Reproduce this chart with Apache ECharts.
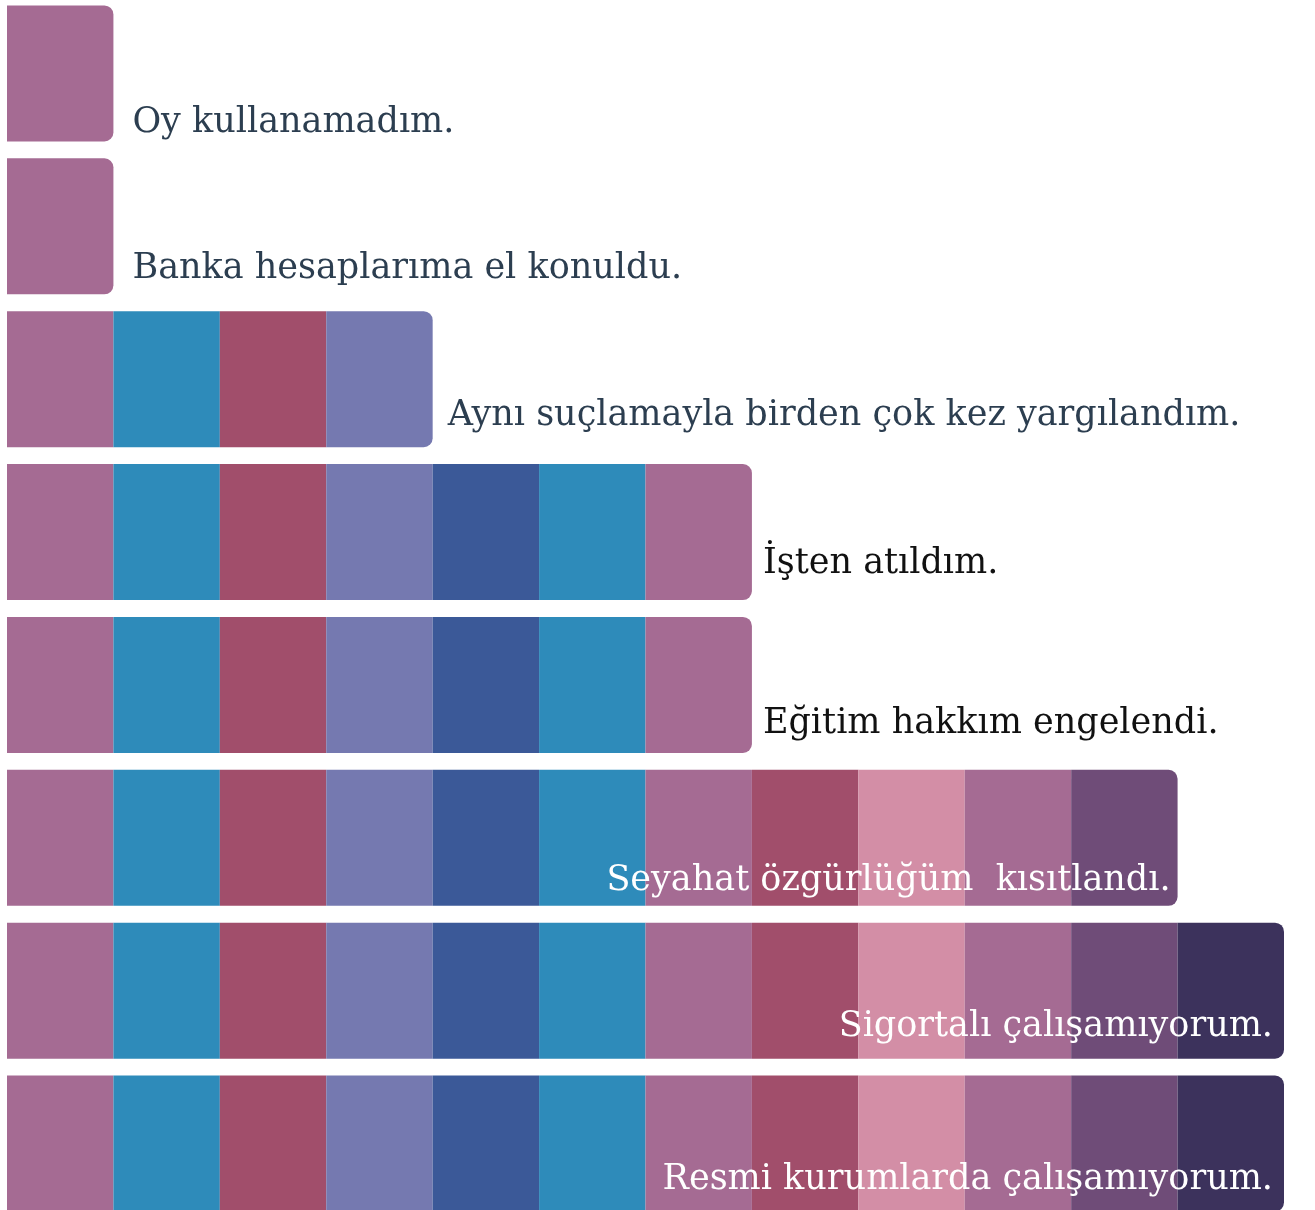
<!DOCTYPE html>
<html>
<head>
<meta charset="utf-8">
<script src="https://cdn.jsdelivr.net/npm/echarts@6/dist/echarts.min.js"></script>
<style>
  html, body { margin: 0; padding: 0; background: #fff; overflow: hidden; }
  #chart { position: absolute; left: 0; top: -3px; width: 1315px; height: 1223px; }
</style>
</head>
<body>
<div id="chart"></div>
<script>
// satır başlıkları (yukarıdan aşağı)
const categories = [
  'Oy kullanamadım.',
  'Banka hesaplarıma el konuldu.',
  'Aynı suçlamayla birden çok kez yargılandım.',
  'İşten atıldım.',
  'Eğitim hakkım engelendi.',
  'Seyahat özgürlüğüm  kısıtlandı.',
  'Sigortalı çalışamıyorum.',
  'Resmi kurumlarda çalışamıyorum.'
];
// her satırdaki kutu sayısı
const counts = [1, 1, 4, 7, 7, 11, 12, 12];
// kutu renkleri, soldan sağa
const cellColors = ['#a56b93', '#2e8bba', '#a14e6b', '#7579b0', '#3b5998', '#2e8bba',
                    '#a56b93', '#a14e6b', '#d38ea6', '#a56b93', '#6f4c78', '#3c325c'];

// etiket yerleşimi: [dx, dy, iç mi, renk]
const labelPos = [
  [19, -19, false, '#2c3e50'],
  [19, -25, false, '#2c3e50'],
  [15, -31, false, '#2c3e50'],
  [11, -36, false, '#111111'],
  [11, -29, false, '#111111'],
  [-7, -25, true, '#ffffff'],
  [-11, -32, true, '#ffffff'],
  [-11, -32, true, '#ffffff']
];

const maxCells = cellColors.length;
const series = [];
for (let i = 0; i < maxCells; i++) {
  const data = counts.map((c, row) => {
    if (c <= i) return '-';
    const item = { value: 1 };
    if (c === i + 1) {
      const lp = labelPos[row];
      item.itemStyle = { borderRadius: [0, 9, 9, 0] };
      item.label = {
        show: true,
        formatter: categories[row],
        position: ['100%', '100%'],
        align: lp[2] ? 'right' : 'left',
        verticalAlign: 'middle',
        offset: [lp[0], lp[1]],
        color: lp[3],
        fontFamily: 'DejaVu Serif',
        fontSize: 35
      };
    }
    return item;
  });
  series.push({
    type: 'bar',
    stack: 'all',
    barWidth: 136,
    data: data,
    itemStyle: { color: cellColors[i] },
    label: { show: false },
    silent: true,
    animation: false
  });
}

const option = {
  grid: { left: 7, right: 31, top: 0, bottom: 0, containLabel: false },
  xAxis: {
    type: 'value',
    min: 0,
    max: 12,
    show: false
  },
  yAxis: {
    type: 'category',
    data: categories,
    inverse: true,
    axisLine: { show: false },
    axisTick: { show: false },
    axisLabel: { show: false },
    splitLine: { show: false }
  },
  series: series
};

let myChart = echarts.init(document.getElementById('chart'));
myChart.setOption(option);
window.addEventListener('resize', () => {
  myChart.resize();
});
</script>
</body>
</html>
